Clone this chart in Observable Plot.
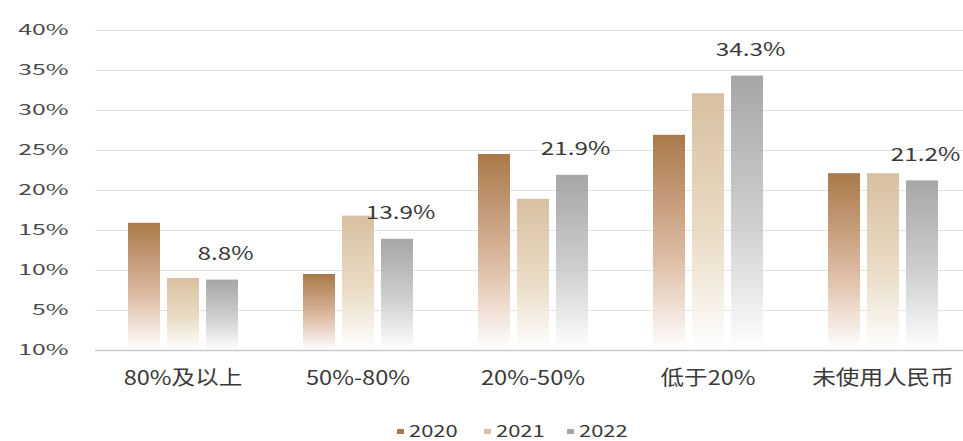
<!DOCTYPE html>
<html>
<head>
<meta charset="utf-8">
<script src="https://cdn.jsdelivr.net/npm/d3@7"></script>
<script src="https://cdn.jsdelivr.net/npm/@observablehq/plot@0.6"></script>
<style>
  body { margin: 0; background: #ffffff; font-family: "Noto Sans CJK SC", "Noto Sans", sans-serif; }
  #chart { width: 963px; height: 441px; position: relative; }
  .legend { position: absolute; top: 419px; left: 0; width: 963px; height: 22px; font-size: 16px; color: #3a3a3a; }
  .legend .sw { position: absolute; top: 10px; width: 7px; height: 5px; }
  .legend .lbl { position: absolute; top: 0; line-height: 22px; transform-origin: left center; transform: scaleX(1.37); }
</style>
</head>
<body>
<div id="chart"></div>
<script>
const categories = ["80%及以上", "50%-80%", "20%-50%", "低于20%", "未使用人民币"];
const years = ["2020", "2021", "2022"];
const v2020 = [15.9, 9.5, 24.5, 26.9, 22.1];
const v2021 = [9.0, 16.8, 18.9, 32.1, 22.1];
const v2022 = [8.8, 13.9, 21.9, 34.3, 21.2];
const yTicks = [0, 5, 10, 15, 20, 25, 30, 35, 40];
const yTickLabels = ["10%", "5%", "10%", "15%", "20%", "25%", "30%", "35%", "40%"];
const topColors = {"2020": "#a9794a", "2021": "#d8c0a0", "2022": "#a6a6a8"};
const midColors = {"2020": "#dcb9a0", "2021": "#eadcc6", "2022": "#cfd0d2"};

const seriesByYear = {"2020": v2020, "2021": v2021, "2022": v2022};
const rows = years.flatMap(yr => categories.map((c, i) => ({category: c, year: yr, value: seriesByYear[yr][i]})));

const gradients = () => {
  const ns = "http://www.w3.org/2000/svg";
  const defs = document.createElementNS(ns, "defs");
  for (const yr of years) {
    const g = document.createElementNS(ns, "linearGradient");
    g.setAttribute("id", "g" + yr);
    g.setAttribute("x1", "0"); g.setAttribute("y1", "0");
    g.setAttribute("x2", "0"); g.setAttribute("y2", "1");
    const stops = [[0, topColors[yr]], [0.55, midColors[yr]], [1, "#ffffff"]];
    for (const [o, c] of stops) {
      const s = document.createElementNS(ns, "stop");
      s.setAttribute("offset", o);
      s.setAttribute("stop-color", c);
      g.appendChild(s);
    }
    defs.appendChild(g);
  }
  return defs;
};

const FONT = '"Noto Sans CJK SC", "Noto Sans", sans-serif';

const plot = Plot.plot({
  width: 963,
  height: 405,
  marginLeft: 95,
  marginRight: -7,
  marginTop: 30,
  marginBottom: 55,
  style: {fontFamily: FONT, background: "transparent", color: "#444"},
  fx: {domain: categories, padding: 0, label: null, axis: null},
  x: {domain: years, paddingInner: 0.18, paddingOuter: 0.83, axis: null},
  y: {domain: [0, 40], axis: null},
  marks: [
    gradients,
    Plot.ruleY(yTicks.slice(1), {stroke: "#e2e2e2", strokeWidth: 1}),
    Plot.axisY({ticks: yTicks, tickFormat: (d) => yTickLabels[yTicks.indexOf(d)], tickSize: 0, tickPadding: 27, fontSize: 15, fill: "#4a4a4a", label: null}),
    ...years.map(yr => Plot.barY(rows.filter(d => d.year === yr), {fx: "category", x: "year", y: "value", fill: `url(#g${yr})`})),
    Plot.ruleY([0], {stroke: "#cbcbcb", strokeWidth: 1.5}),
    Plot.text(rows.filter(d => d.year === "2022"), {fx: "category", x: "year", y: "value", text: d => d.value.toFixed(1) + "%", dy: -26, dx: 3, fontSize: 18, fill: "#3a3a3a"}),
    Plot.axisFx({anchor: "bottom", tickSize: 0, tickPadding: 20, fontSize: 20, fill: "#3a3a3a", label: null})
  ]
});

const chart = document.getElementById("chart");
chart.appendChild(plot);

function stretch(sel, factor) {
  plot.querySelectorAll(sel).forEach(t => {
    const len = t.getComputedTextLength();
    if (len > 0) {
      t.setAttribute("textLength", (len * factor).toFixed(1));
      t.setAttribute("lengthAdjust", "spacingAndGlyphs");
    }
  });
}
stretch('g[aria-label="y-axis tick label"] text', 1.65);
stretch('g[aria-label="text"] text', 1.35);
stretch('g[aria-label="fx-axis tick label"] text', 1.18);

const legend = document.createElement("div");
legend.className = "legend";
const legendSwatchX = [397, 484, 567];
years.forEach((yr, i) => {
  const sw = document.createElement("div");
  sw.className = "sw";
  sw.style.left = legendSwatchX[i] + "px";
  sw.style.background = topColors[yr];
  const lbl = document.createElement("div");
  lbl.className = "lbl";
  lbl.style.left = (legendSwatchX[i] + 12) + "px";
  lbl.textContent = yr;
  legend.appendChild(sw);
  legend.appendChild(lbl);
});
chart.appendChild(legend);
</script>
</body>
</html>
